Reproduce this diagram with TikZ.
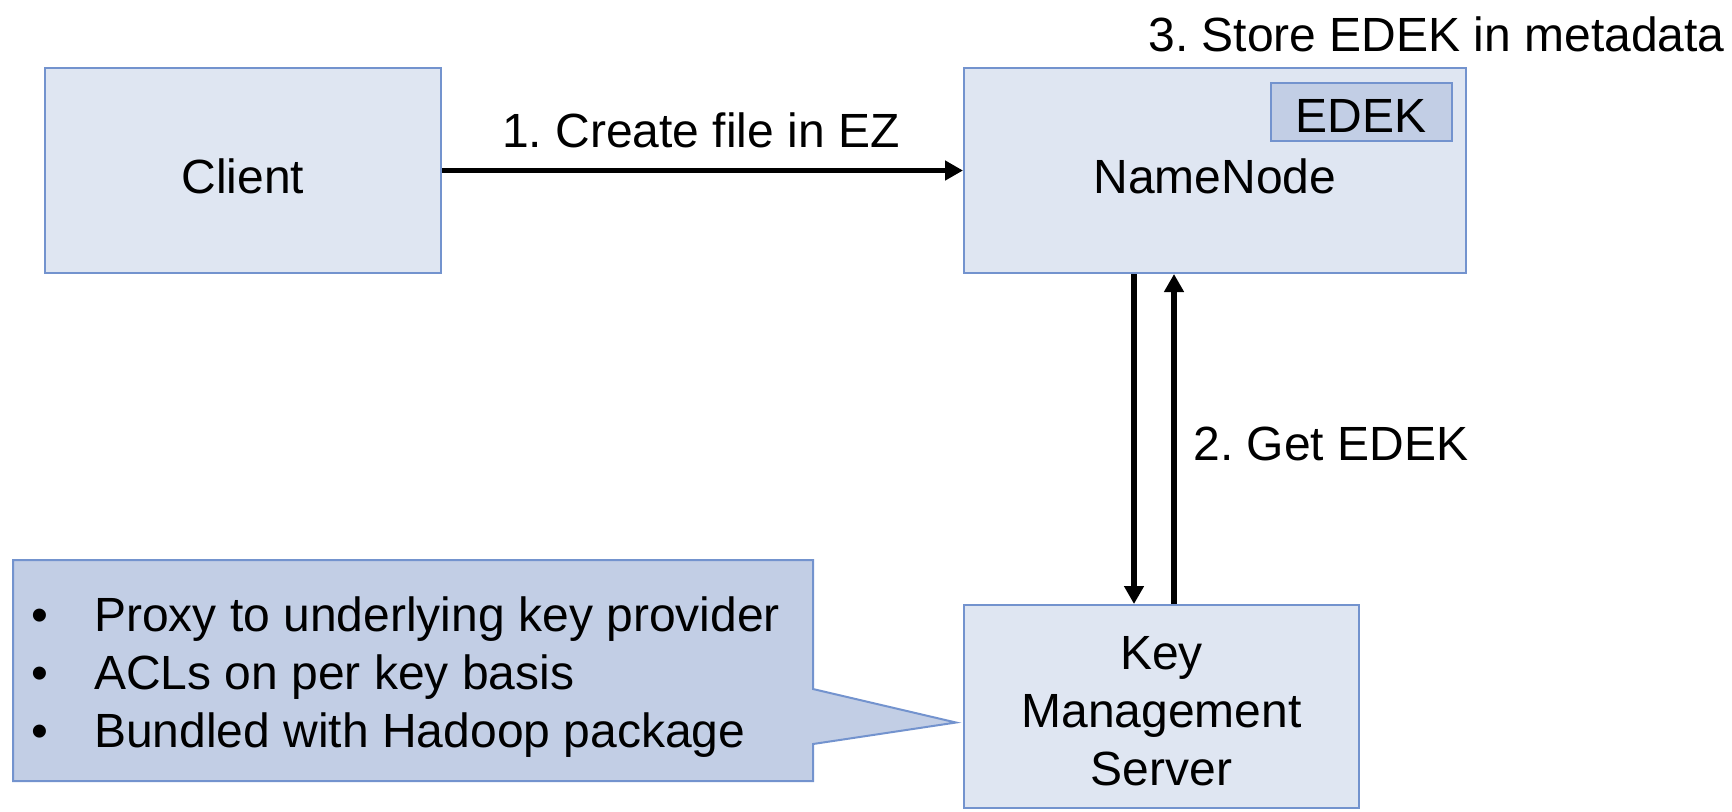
\documentclass[tikz,border=0pt]{standalone}
\usepackage{fontspec}
\setmainfont{Liberation Sans}
\usetikzlibrary{arrows.meta,calc}
\definecolor{boxfill}{HTML}{DFE6F2}
\definecolor{keyfill}{HTML}{C2CEE5}
\definecolor{boxline}{HTML}{7393CE}
\frenchspacing
\begin{document}
\begin{tikzpicture}[x=0.5pt,y=-0.5pt,
  every node/.style={font=\fontsize{24}{29}\selectfont, inner sep=0pt},
  block/.style={draw=boxline, fill=boxfill, line width=1pt},
  keybox/.style={draw=boxline, fill=keyfill, line width=1pt},
  flow/.style={line width=2.75pt, -{Triangle[length=9pt,width=9.5pt]}}]
\useasboundingbox (0,0) rectangle (1732,811);

% main components
\node[block, minimum width=198pt, minimum height=102.5pt, text height=23pt] (client) at (243,170.5) {Client};
\node[block, minimum width=251pt, minimum height=102.5pt, text height=23pt] (namenode) at (1215,170.5) {NameNode};
\node[keybox, minimum width=90.5pt, minimum height=29pt, text height=21pt] (edek) at (1361,111.5) {EDEK};
\node[anchor=east] (store) at (1725,34) {3. Store EDEK in metadata};
\node[block, minimum width=197.5pt, minimum height=101.5pt,
  label={[name=kmstext, align=center, yshift=-2.5pt]center:{Key\\Management\\Server}}] (kms) at (1161.5,706.5) {};

% requests between components
\draw[flow] (client) -- (namenode);
\node (createlbl) at (701,130) {1. Create file in EZ};
\draw[flow] ([xshift=-40.5pt]namenode.south) -- ([xshift=-40.5pt]namenode.south |- kms.north);
\draw[flow] ([xshift=6.25pt]kms.north) -- ([xshift=6.25pt]kms.north |- namenode.south);
\node[anchor=west] (getlbl) at (1193,444) {2. Get EDEK};

% callout describing the key management server
\coordinate (tip) at ($(kms.west)+(-7,16)$);
\draw[keybox] (13,560) -- (813,560) -- (813,689) -- (tip) -- (813,744) -- (813,781) -- (13,781) -- cycle;
\node[anchor=west] (notes) at (31,678) {%
  \begin{tabular}{@{}l@{\hspace{23pt}}l@{}}
  \textbullet & Proxy to underlying key provider\\
  \textbullet & ACLs on per key basis\\
  \textbullet & Bundled with Hadoop package
  \end{tabular}};
\end{tikzpicture}
\end{document}
